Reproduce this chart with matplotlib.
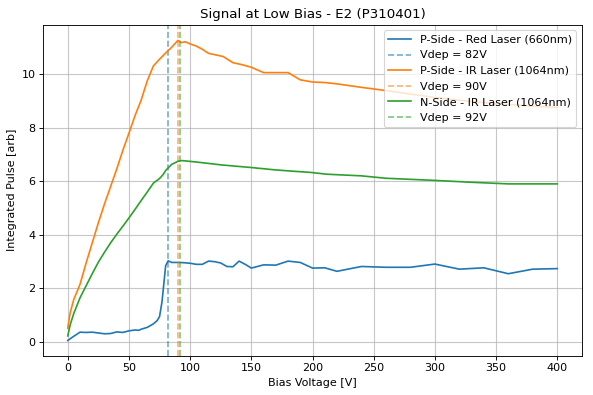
import matplotlib
matplotlib.use("Agg")
import matplotlib.pyplot as plt

title = "Signal at Low Bias - E2 (P310401)"

red_v = [0, 5, 10, 15, 20, 25, 30, 35, 40, 45, 50, 55, 58, 60, 65, 70, 73, 75, 77, 79, 80, 82,
         85, 90, 95, 100, 105, 110, 115, 120, 125, 130, 135, 140, 145, 150, 160, 170, 180, 190,
         200, 210, 220, 240, 260, 280, 300, 320, 340, 360, 380, 400]
red_y = [0.06, 0.22, 0.37, 0.36, 0.37, 0.34, 0.31, 0.32, 0.38, 0.36, 0.42, 0.45, 0.44, 0.48,
         0.55, 0.68, 0.80, 0.95, 1.50, 2.40, 2.85, 3.03, 2.97, 2.97, 2.96, 2.94, 2.90, 2.90,
         3.02, 3.00, 2.95, 2.82, 2.81, 3.02, 2.90, 2.76, 2.88, 2.87, 3.02, 2.97, 2.76, 2.77,
         2.64, 2.82, 2.79, 2.79, 2.91, 2.72, 2.77, 2.55, 2.72, 2.74]

irp_v = [0, 2, 5, 10, 15, 20, 25, 30, 35, 40, 45, 50, 55, 60, 65, 70, 75, 80, 85, 88, 90, 93,
         96, 100, 105, 110, 115, 120, 127, 135, 142, 150, 160, 170, 180, 190, 200, 210, 220,
         240, 260, 280, 300, 320, 340, 360, 380, 400]
irp_y = [0.52, 1.10, 1.60, 2.15, 2.95, 3.70, 4.45, 5.15, 5.80, 6.45, 7.15, 7.79, 8.45, 9.03,
         9.75, 10.30, 10.55, 10.78, 11.00, 11.15, 11.25, 11.17, 11.20, 11.12, 11.04, 10.92,
         10.77, 10.72, 10.65, 10.42, 10.35, 10.25, 10.05, 10.05, 10.05, 9.78, 9.70, 9.68,
         9.63, 9.50, 9.38, 9.25, 9.12, 9.02, 8.93, 8.86, 8.80, 8.75]

irn_v = [0, 2, 5, 10, 15, 20, 25, 30, 35, 40, 45, 50, 55, 60, 65, 70, 75, 78, 80, 85, 90, 93,
         100, 110, 125, 150, 170, 185, 198, 212, 240, 260, 300, 330, 360, 400]
irn_y = [0.23, 0.65, 1.08, 1.65, 2.10, 2.55, 2.98, 3.35, 3.70, 4.02, 4.32, 4.63, 4.95, 5.28,
         5.60, 5.93, 6.10, 6.25, 6.40, 6.63, 6.74, 6.77, 6.74, 6.69, 6.61, 6.51, 6.42, 6.37,
         6.33, 6.26, 6.20, 6.11, 6.03, 5.96, 5.90, 5.90]

vdep = [82, 90, 92]
labels = ["P-Side - Red Laser (660nm)", "P-Side - IR Laser (1064nm)", "N-Side - IR Laser (1064nm)"]
colors = ["#1f77b4", "#ff7f0e", "#2ca02c"]

fig = plt.figure(figsize=(593 / 80, 395 / 80), dpi=80)
ax = fig.add_axes([0.073, 0.1, 0.908, 0.837])

series = [(red_v, red_y), (irp_v, irp_y), (irn_v, irn_y)]
for (v, y), lab, c, vd in zip(series, labels, colors, vdep):
    ax.plot(v, y, color=c, lw=1.5, label=lab)
    ax.axvline(vd, color=c, ls="--", lw=1.5, alpha=0.6, label=f"Vdep = {vd}V")

ax.set_xlim(-20, 420)
ax.set_ylim(-0.5, 11.83)
ax.set_yticks([0, 2, 4, 6, 8, 10])
ax.set_xticks([0, 50, 100, 150, 200, 250, 300, 350, 400])
ax.grid(True, color="#b0b0b0", alpha=0.7, lw=1.0)
ax.set_title(title, fontsize=12)
ax.set_xlabel("Bias Voltage [V]", fontsize=10)
ax.set_ylabel("Integrated Pulse [arb]", fontsize=10)
ax.tick_params(labelsize=10)
ax.legend(loc="upper right", fontsize=10)

fig.savefig("out.png", dpi=80)
